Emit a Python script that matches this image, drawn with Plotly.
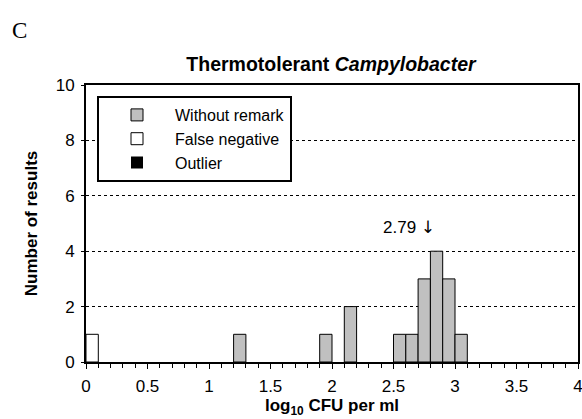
import plotly.graph_objects as go

# bin centres (log10 CFU per ml, bin width 0.1)
remark_x = [1.25, 1.95, 2.15, 2.55, 2.65, 2.75, 2.85, 2.95, 3.05]
remark_counts = [1, 1, 2, 1, 1, 3, 4, 3, 1]
false_neg_x = [0.05]
false_neg_counts = [1]
outlier_x = [0.05]
outlier_counts = [0]
assigned_value = 2.79

font = "Liberation Sans, Arial, sans-serif"

fig = go.Figure()
for name, xs, ys, colour, edge in [
    ("Without remark", remark_x, remark_counts, "#c0c0c0", 1),
    ("False negative", false_neg_x, false_neg_counts, "#ffffff", 1),
    ("Outlier", outlier_x, outlier_counts, "#000000", 0),
]:
    fig.add_trace(
        go.Bar(
            x=xs,
            y=ys,
            width=0.1,
            name=name,
            marker={"color": colour, "line": {"color": "black", "width": edge}},
            showlegend=True,
        )
    )

fig.add_annotation(
    x=assigned_value,
    y=4.87,
    text="2.79 <span style='font-family:DejaVu Sans;color:black'>\u2193</span>",
    showarrow=False,
    xanchor="center",
    xshift=-20,
    font={"family": font, "size": 17, "color": "black"},
)
fig.add_annotation(
    x=(19.5 - 86) / 492,
    y=(419 - 57 - 31) / 277,
    xref="paper",
    yref="paper",
    xanchor="center",
    yanchor="middle",
    text="C",
    showarrow=False,
    font={"family": "Liberation Serif, Times New Roman, serif", "size": 23, "color": "black"},
)

fig.update_layout(
    width=582,
    height=419,
    margin={"l": 86, "r": 4, "t": 85, "b": 57, "autoexpand": False},
    plot_bgcolor="white",
    paper_bgcolor="white",
    barmode="overlay",
    font={"family": font, "size": 17, "color": "black"},
    title={
        "text": "<b>Thermotolerant <i>Campylobacter</i></b>",
        "x": 331 / 582,
        "xanchor": "center",
        "xref": "container",
        "y": 1 - 64 / 419,
        "yref": "container",
        "yanchor": "middle",
        "font": {"size": 19.5},
    },
    legend={
        "x": (97 - 86) / 492,
        "y": (419 - 57 - 96) / 277,
        "xanchor": "left",
        "yanchor": "top",
        "bordercolor": "black",
        "borderwidth": 2,
        "bgcolor": "white",
        "font": {"size": 16},
        "tracegroupgap": 0,
        "itemwidth": 66,
        "traceorder": "normal",
    },
    xaxis={
        "range": [0, 4],
        "dtick": 0.5,
        "ticks": "outside",
        "ticklen": 5,
        "tickcolor": "black",
        "showline": True,
        "linecolor": "black",
        "linewidth": 2,
        "mirror": True,
        "showgrid": False,
        "zeroline": False,
        "automargin": False,
        "ticklabeloverflow": "allow",
        "ticklabelstandoff": 3,
        "minor": {"dtick": 0.1, "ticks": "outside", "ticklen": 4, "tickcolor": "black"},
        "tickfont": {"size": 17},
        "title": {
            "text": "<b>log<sub>10</sub> CFU per ml</b>",
            "font": {"size": 17},
            "standoff": 0,
        },
    },
    yaxis={
        "range": [0, 10],
        "dtick": 2,
        "ticks": "outside",
        "ticklen": 3,
        "tickcolor": "black",
        "showline": True,
        "linecolor": "black",
        "linewidth": 2,
        "mirror": True,
        "showgrid": True,
        "gridcolor": "black",
        "griddash": "3px,3px",
        "gridwidth": 1,
        "zeroline": False,
        "automargin": False,
        "ticklabelstandoff": 3,
        "tickfont": {"size": 17},
        "title": {"text": "<b>Number of results</b>", "font": {"size": 17}, "standoff": 14},
    },
)

fig.write_html(
    "out.html",
    config={"displayModeBar": False},
    post_script="document.body.style.margin = '0';",
)
